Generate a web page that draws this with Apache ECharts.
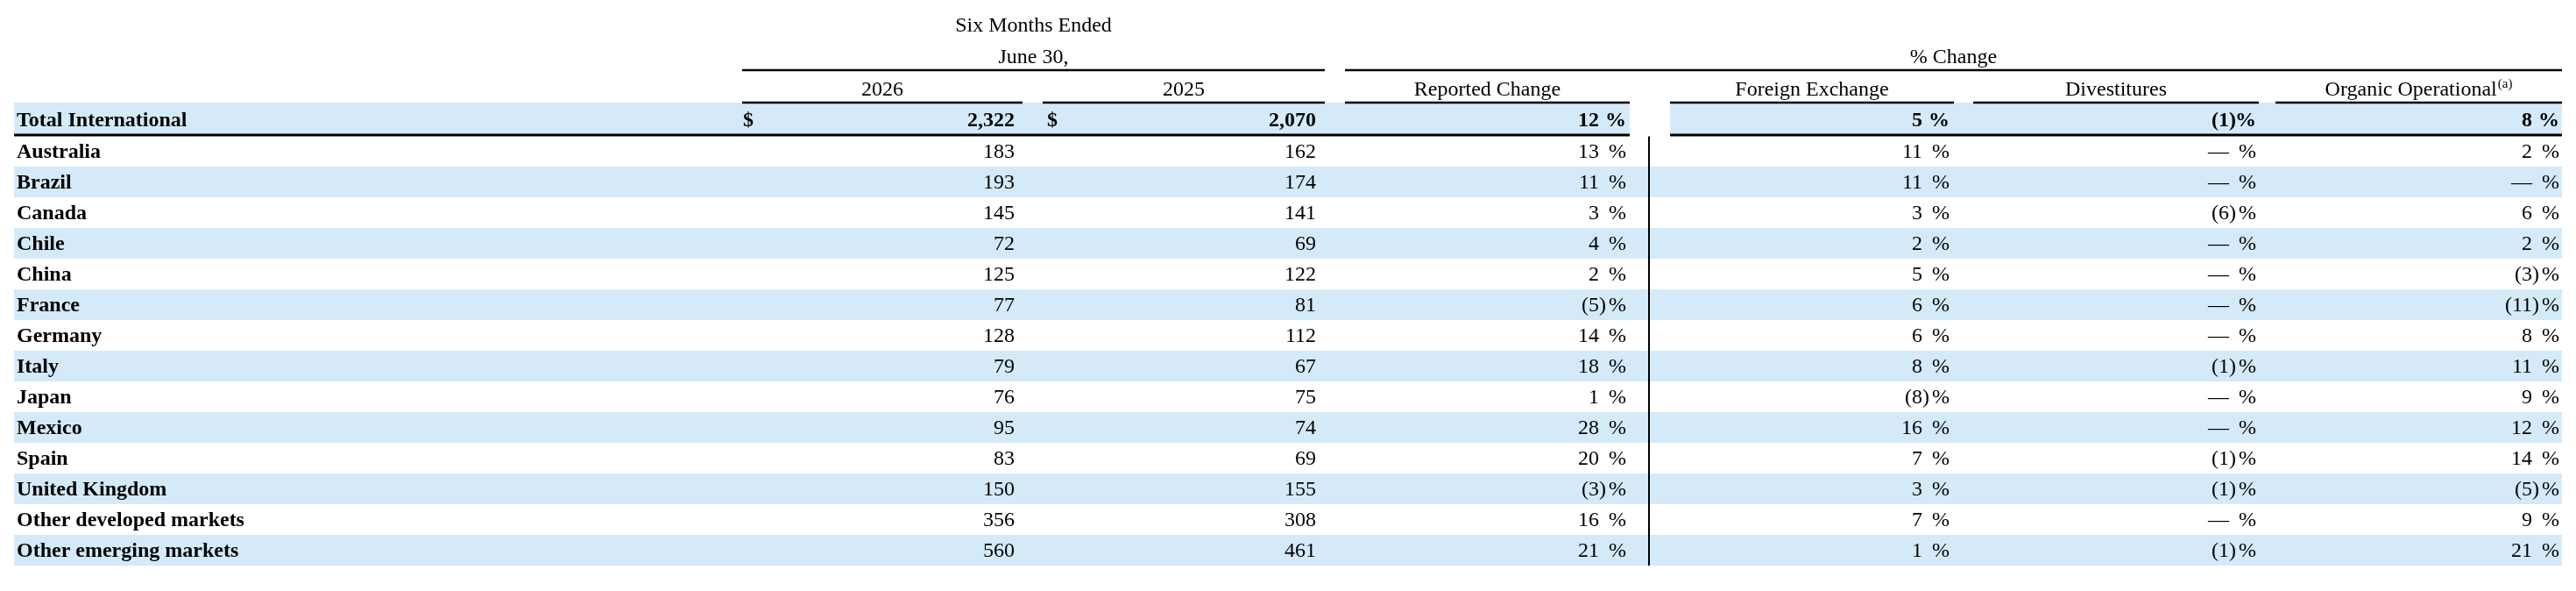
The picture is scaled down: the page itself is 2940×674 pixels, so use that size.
<!DOCTYPE html>
<html>
<head>
<meta charset="utf-8">
<script src="https://cdn.jsdelivr.net/npm/echarts@6/dist/echarts.min.js"></script>
<style>
  html, body { margin: 0; padding: 0; background: #fff; }
  #chart { width: 2940px; height: 674px; }
</style>
</head>
<body>
<div id="chart"></div>
<script>
// Data
const rowLabels = [
  'Total International', 'Australia', 'Brazil', 'Canada', 'Chile', 'China', 'France',
  'Germany', 'Italy', 'Japan', 'Mexico', 'Spain', 'United Kingdom',
  'Other developed markets', 'Other emerging markets'
];
const values2026 = [2322, 183, 193, 145, 72, 125, 77, 128, 79, 76, 95, 83, 150, 356, 560];
const values2025 = [2070, 162, 174, 141, 69, 122, 81, 112, 67, 75, 74, 69, 155, 308, 461];
const reportedChange = [12, 13, 11, 3, 4, 2, -5, 14, 18, 1, 28, 20, -3, 16, 21];
const foreignExchange = [5, 11, 11, 3, 2, 5, 6, 6, 8, -8, 16, 7, 3, 7, 1];
const divestitures = [-1, 0, 0, -6, 0, 0, 0, 0, -1, 0, 0, -1, -1, 0, -1];
const organicOperational = [8, 2, 0, 6, 2, -3, -11, 8, 11, 9, 12, 14, -5, 9, 21];

const periodTitle = ['Six Months Ended', 'June 30,'];
const changeTitle = '% Change';
const columnHeaders = ['2026', '2025', 'Reported Change', 'Foreign Exchange', 'Divestitures', 'Organic Operational'];
const footnoteMark = '(a)';
const currencySign = '$';

// Layout (page units along the hidden x axis)
const FONT = '"Liberation Serif", "Times New Roman", serif';
const SIZE = 24;
const TABLE_LEFT = 16, TABLE_RIGHT = 2924, LABEL_X = 19;
const cols = [
  { l: 847, r: 1167, vr: 1158 },
  { l: 1190, r: 1512, vr: 1502 },
  { l: 1535, r: 1860, vr: 1856 },
  { l: 1906, r: 2230, vr: 2225 },
  { l: 2252, r: 2578, vr: 2575 },
  { l: 2597, r: 2924, vr: 2921 }
];
const DIVIDER_X = 1882;
const BAND = '#d4eaf9';
const HEAD_ROWS = 3;
const TEXT_DY = 1.5;

const yCats = ['h0', 'h1', 'h2'].concat(rowLabels);
const font = (bold) => `${bold ? 'bold ' : ''}${SIZE}px ${FONT}`;
const fmtInt = (v) => v.toLocaleString('en-US');

function txt(text, x, y, align, bold) {
  return { type: 'text', style: { text, x, y: y + TEXT_DY, align, verticalAlign: 'middle', font: font(bold), fill: '#000' } };
}
function rule(x1, y, x2, w) {
  return { type: 'line', shape: { x1, y1: y, x2, y2: y }, style: { stroke: '#000', lineWidth: w } };
}

function pctCell(v, right, y, bold) {
  const numRight = right - 31;
  const out = [txt('%', right, y, 'right', bold)];
  if (v === 0) out.push(txt('\u2014', numRight, y, 'right', bold));
  else if (v > 0) out.push(txt(String(v), numRight, y, 'right', bold));
  else {
    out.push(txt('(' + Math.abs(v), numRight, y, 'right', bold));
    out.push(txt(')', numRight, y, 'left', bold));
  }
  return out;
}

function renderBand(params, api) {
  const row = api.value(0);
  const [, cy] = api.coord([0, row + HEAD_ROWS]);
  const h = api.size([0, 1])[1];
  const x0 = api.coord([TABLE_LEFT, 0])[0];
  const x1 = api.coord([TABLE_RIGHT, 0])[0];
  const style = { fill: BAND };
  if (row === 0) {
    // total row: band sits between the header rule and the heavy rule,
    // and breaks at the gap before the divider column
    const top = cy - h / 2 - 3, bh = h + 1;
    const g0 = api.coord([cols[2].r, 0])[0];
    const g1 = api.coord([cols[3].l, 0])[0];
    return { type: 'group', children: [
      { type: 'rect', shape: { x: x0, y: top, width: g0 - x0, height: bh }, style },
      { type: 'rect', shape: { x: g1, y: top, width: x1 - g1, height: bh }, style }
    ] };
  }
  return { type: 'rect', shape: { x: x0, y: cy - h / 2, width: x1 - x0, height: h }, style };
}

function renderRow(params, api) {
  const i = api.value(0);
  const [, y] = api.coord([0, i + HEAD_ROWS]);
  const X = (v) => api.coord([v, 0])[0];
  const bold = i === 0;
  const yy = bold ? y - 1.5 : y;
  const kids = [txt(rowLabels[i], X(LABEL_X), yy, 'left', true)];
  if (bold) {
    kids.push(txt(currencySign, X(cols[0].l + 1), yy, 'left', true));
    kids.push(txt(currencySign, X(cols[1].l + 5), yy, 'left', true));
  }
  kids.push(txt(fmtInt(values2026[i]), X(cols[0].vr), yy, 'right', bold));
  kids.push(txt(fmtInt(values2025[i]), X(cols[1].vr), yy, 'right', bold));
  [reportedChange, foreignExchange, divestitures, organicOperational].forEach((arr, k) => {
    kids.push(...pctCell(arr[i], X(cols[k + 2].vr), yy, bold));
  });
  return { type: 'group', children: kids };
}

function renderHeader(params, api) {
  const h = api.size([0, 1])[1];
  const X = (v) => api.coord([v, 0])[0];
  const Y = (cat) => api.coord([0, cat])[1];
  const kids = [];
  const periodMid = (cols[0].l + cols[1].r) / 2;
  const changeMid = (cols[2].l + cols[5].r) / 2;
  kids.push(txt(periodTitle[0], X(periodMid), Y(0) - 4, 'center', false));
  kids.push(txt(periodTitle[1], X(periodMid), Y(1) - 3, 'center', false));
  kids.push(txt(changeTitle, X(changeMid), Y(1) - 3, 'center', false));
  const topRule = Y(2) - h / 2 - 5;
  kids.push(rule(X(cols[0].l), topRule, X(cols[1].r), 2.5));
  kids.push(rule(X(cols[2].l), topRule, X(cols[5].r), 2.5));
  const underRule = Y(2) + h / 2 - 3;
  const hy = Y(2) - 1;
  cols.forEach((c, k) => {
    const mid = X((c.l + c.r) / 2);
    if (k === 5) {
      kids.push({ type: 'text', style: {
        text: `{m|${columnHeaders[k]}}{s|${footnoteMark}}`,
        x: mid, y: hy + TEXT_DY, align: 'center', verticalAlign: 'middle',
        rich: {
          m: { font: font(false), fill: '#000', lineHeight: 28 },
          s: { fontFamily: FONT, fontSize: 15, fill: '#000', verticalAlign: 'top', lineHeight: 15, padding: [0, 0, 0, 1] }
        }
      } });
    } else {
      kids.push(txt(columnHeaders[k], mid, hy, 'center', false));
    }
    kids.push(rule(X(c.l), underRule, X(c.r), 2.5));
  });
  // heavy rule under total row
  const totalBottom = Y(HEAD_ROWS) + h / 2 - 1;
  kids.push(rule(X(TABLE_LEFT), totalBottom, X(cols[2].r), 2.8));
  kids.push(rule(X(cols[3].l), totalBottom, X(TABLE_RIGHT), 2.8));
  // vertical divider through the body
  const vTop = totalBottom + 1.4;
  const vBot = Y(yCats.length - 1) + h / 2;
  kids.push({ type: 'line', shape: { x1: X(DIVIDER_X), y1: vTop, x2: X(DIVIDER_X), y2: vBot }, style: { stroke: '#000', lineWidth: 2 } });
  return { type: 'group', children: kids };
}

const chart = echarts.init(document.getElementById('chart'), null, { renderer: 'canvas' });
chart.setOption({
  animation: false,
  grid: { left: 0, right: 0, top: 15, bottom: 29 },
  xAxis: { type: 'value', min: 0, max: 2940, show: false },
  yAxis: { type: 'category', data: yCats, inverse: true, show: false },
  series: [
    {
      type: 'custom', name: 'bands', z: 1, silent: true,
      data: rowLabels.map((_, i) => [i]).filter((d) => d[0] % 2 === 0),
      renderItem: renderBand
    },
    {
      type: 'custom', name: 'cells', z: 2, silent: true,
      data: rowLabels.map((_, i) => [i]),
      renderItem: renderRow
    },
    {
      type: 'custom', name: 'header', z: 3, silent: true,
      data: [[0]],
      renderItem: renderHeader
    }
  ]
});
</script>
</body>
</html>
